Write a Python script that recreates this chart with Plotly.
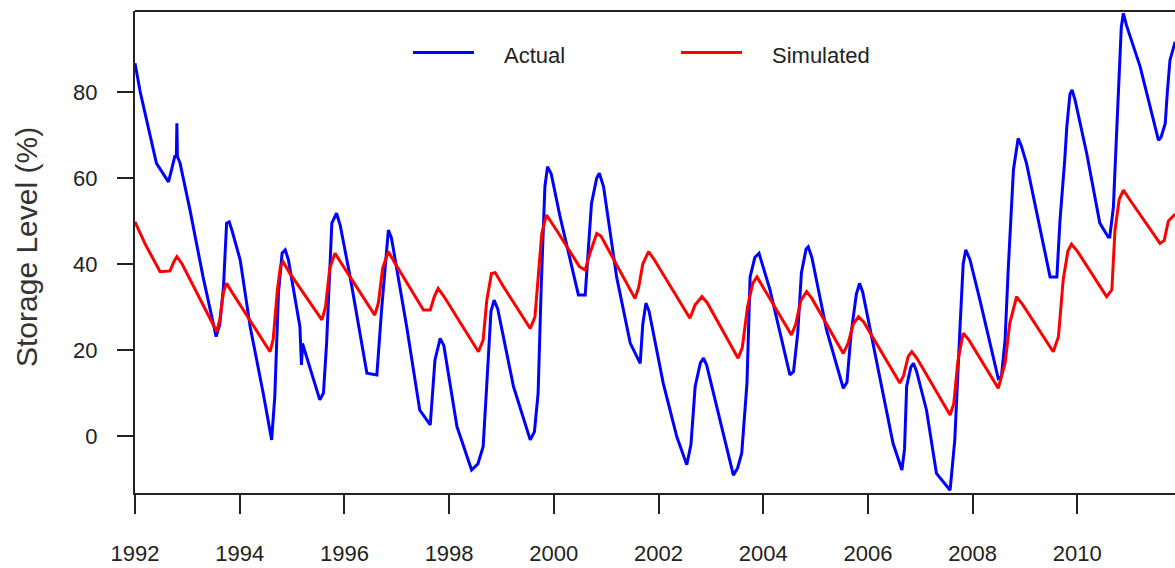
import plotly.graph_objects as go

# Reservoir storage level (%) – observed record
actual_year = [
    1992.00, 1992.10, 1992.41, 1992.56, 1992.64, 1992.70, 1992.76, 1992.79, 1992.80, 1992.81,
    1992.86, 1993.05, 1993.30, 1993.55, 1993.62, 1993.69, 1993.75, 1993.80, 1993.86, 1994.01,
    1994.20, 1994.45, 1994.61, 1994.67, 1994.74, 1994.81, 1994.87, 1994.93, 1995.15, 1995.18,
    1995.20, 1995.53, 1995.60, 1995.66, 1995.76, 1995.85, 1995.92, 1996.11, 1996.43, 1996.62,
    1996.71, 1996.84, 1996.90, 1997.19, 1997.44, 1997.64, 1997.73, 1997.83, 1997.90, 1998.15,
    1998.43, 1998.55, 1998.65, 1998.72, 1998.80, 1998.86, 1998.93, 1999.23, 1999.55, 1999.63,
    1999.70, 1999.76, 1999.83, 1999.88, 1999.95, 2000.12, 2000.47, 2000.60, 2000.66, 2000.72,
    2000.82, 2000.87, 2000.95, 2001.20, 2001.46, 2001.65, 2001.70, 2001.76, 2001.82, 2002.09,
    2002.35, 2002.54, 2002.62, 2002.70, 2002.80, 2002.86, 2002.92, 2003.17, 2003.43, 2003.51,
    2003.59, 2003.69, 2003.75, 2003.84, 2003.92, 2004.13, 2004.51, 2004.58, 2004.66, 2004.73,
    2004.82, 2004.86, 2004.93, 2005.21, 2005.53, 2005.60, 2005.68, 2005.78, 2005.84, 2005.90,
    2006.23, 2006.48, 2006.65, 2006.70, 2006.74, 2006.82, 2006.87, 2006.93, 2007.12, 2007.31,
    2007.57, 2007.61, 2007.66, 2007.76, 2007.82, 2007.87, 2007.95, 2008.14, 2008.49, 2008.55,
    2008.62, 2008.68, 2008.75, 2008.78, 2008.87, 2008.93, 2009.03, 2009.48, 2009.61, 2009.67,
    2009.76, 2009.80, 2009.86, 2009.90, 2009.96, 2010.18, 2010.43, 2010.59, 2010.62, 2010.69,
    2010.72, 2010.78, 2010.84, 2010.88, 2010.94, 2011.20, 2011.55, 2011.60, 2011.68, 2011.72,
    2011.77, 2011.87,
]
actual_level = [
    86.7, 80.0, 63.4, 60.5, 59.1, 62.0, 65.0, 65.0, 72.7, 65.0,
    63.5, 52.6, 37.0, 23.1, 26.0, 34.7, 49.5, 49.8, 47.5, 40.9,
    25.4, 9.9, -0.9, 9.1, 33.2, 42.5, 43.3, 41.0, 25.4, 16.5,
    21.5, 8.4, 10.0, 21.6, 49.5, 51.8, 49.0, 37.0, 14.6, 14.2,
    29.3, 47.9, 46.0, 25.4, 6.0, 2.6, 17.7, 22.7, 21.0, 2.2,
    -7.9, -6.5, -2.5, 12.0, 29.0, 31.6, 29.5, 11.5, -0.9, 1.0,
    9.9, 35.0, 58.0, 62.6, 61.0, 51.0, 32.8, 32.8, 43.0, 54.1,
    60.0, 61.1, 58.0, 37.0, 21.6, 16.9, 26.0, 30.9, 29.0, 12.3,
    -0.2, -6.7, -2.0, 11.5, 17.0, 18.1, 16.5, 3.7, -9.1, -7.5,
    -4.0, 12.3, 37.0, 41.5, 42.5, 34.0, 14.2, 15.0, 24.0, 38.0,
    43.5, 44.0, 41.5, 24.7, 11.1, 12.5, 24.0, 33.0, 35.5, 33.5,
    13.8, -1.7, -7.9, -3.0, 11.5, 16.0, 16.9, 15.0, 6.0, -8.7,
    -12.6, -8.0, -0.9, 25.4, 40.0, 43.3, 41.0, 31.6, 13.4, 13.8,
    22.3, 38.6, 54.9, 61.9, 69.2, 67.5, 63.4, 37.0, 37.0, 50.2,
    64.2, 72.0, 79.5, 80.5, 78.0, 65.7, 49.5, 46.3, 46.3, 53.3,
    61.9, 80.0, 95.0, 98.3, 95.5, 85.9, 68.8, 69.5, 72.7, 80.0,
    87.4, 91.7,
]

# Model output for the same period
sim_year = [
    1992.00, 1992.20, 1992.48, 1992.67, 1992.74, 1992.80, 1992.90, 1993.56, 1993.62, 1993.69,
    1993.75, 1993.85, 1994.58, 1994.64, 1994.72, 1994.78, 1994.83, 1994.95, 1995.57, 1995.64,
    1995.72, 1995.82, 1995.95, 1996.58, 1996.65, 1996.73, 1996.84, 1996.95, 1997.51, 1997.64,
    1997.72, 1997.79, 1997.90, 1998.56, 1998.65, 1998.72, 1998.81, 1998.88, 1999.04, 1999.55,
    1999.64, 1999.70, 1999.77, 1999.86, 2000.05, 2000.49, 2000.60, 2000.69, 2000.82, 2000.90,
    2001.55, 2001.62, 2001.70, 2001.81, 2001.92, 2002.60, 2002.70, 2002.83, 2002.93, 2003.52,
    2003.60, 2003.70, 2003.80, 2003.88, 2003.98, 2004.54, 2004.62, 2004.72, 2004.83, 2004.93,
    2005.53, 2005.62, 2005.72, 2005.82, 2005.92, 2006.61, 2006.68, 2006.77, 2006.84, 2006.94,
    2007.57, 2007.64, 2007.72, 2007.82, 2007.92, 2008.49, 2008.62, 2008.71, 2008.84, 2008.96,
    2009.54, 2009.64, 2009.73, 2009.82, 2009.89, 2010.00, 2010.56, 2010.66, 2010.72, 2010.80,
    2010.88, 2011.00, 2011.58, 2011.66, 2011.74, 2011.87,
]
sim_level = [
    49.8, 44.5, 38.2, 38.4, 40.5, 41.7, 40.0, 24.3, 27.0, 33.5,
    35.5, 33.5, 19.6, 22.5, 34.0, 39.5, 40.5, 38.0, 27.0, 30.0,
    39.0, 42.5, 40.0, 28.1, 31.0, 39.0, 42.9, 40.5, 29.3, 29.3,
    32.5, 34.3, 32.5, 19.6, 22.3, 31.6, 37.8, 38.0, 34.7, 25.0,
    27.7, 37.0, 47.1, 51.4, 47.9, 39.4, 38.6, 42.5, 47.1, 46.5,
    32.0, 34.5, 40.0, 42.9, 41.0, 27.4, 30.5, 32.4, 31.0, 18.1,
    20.5, 30.0, 35.5, 37.0, 35.0, 23.5, 26.0, 31.5, 33.6, 32.0,
    19.2, 21.5, 26.0, 27.7, 26.5, 12.3, 14.0, 18.5, 19.6, 18.0,
    4.9, 7.5, 17.5, 23.9, 22.5, 11.1, 16.9, 26.2, 32.4, 30.5,
    19.6, 23.1, 36.3, 43.0, 44.6, 43.0, 32.4, 34.0, 47.9, 55.0,
    57.2, 55.0, 44.8, 45.5, 50.0, 51.6,
]

x_ticks = [1992, 1994, 1996, 1998, 2000, 2002, 2004, 2006, 2008, 2010]
y_ticks = [0, 20, 40, 60, 80]

series_names = ["Actual", "Simulated"]
series_colors = ["#0000FF", "#FF0000"]

W, H = 1175, 568
ML, MR, MT, MB = 135, 0, 11, 75
PW, PH = W - ML - MR, H - MT - MB

FONT = "Liberation Sans, Arial, sans-serif"
INK = "#222222"


def px_x(px):
    return (px - ML) / PW


def px_y(py):
    return (H - MB - py) / PH


fig = go.Figure()
fig.add_trace(go.Scatter(x=actual_year, y=actual_level, mode="lines", name=series_names[0],
                         line=dict(color=series_colors[0], width=3), showlegend=False))
fig.add_trace(go.Scatter(x=sim_year, y=sim_level, mode="lines", name=series_names[1],
                         line=dict(color=series_colors[1], width=3), showlegend=False))

# hand-placed key across the top of the panel
key = [(413, 474, 502), (681, 742, 770)]
shapes = []
annotations = []
for (x0, x1, tx), name, col in zip(key, series_names, series_colors):
    shapes.append(dict(type="line", xref="paper", yref="paper",
                       x0=px_x(x0), x1=px_x(x1), y0=px_y(52.5), y1=px_y(52.5),
                       line=dict(color=col, width=3)))
    annotations.append(dict(text=name, xref="paper", yref="paper", x=px_x(tx), y=px_y(55),
                            xanchor="left", yanchor="middle", showarrow=False,
                            font=dict(family=FONT, size=22, color=INK)))

# frame line along the top edge
shapes.append(dict(type="line", xref="paper", yref="paper", x0=0, x1=1, y0=1, y1=1,
                   line=dict(color=INK, width=2)))

annotations.append(dict(text="Storage Level (%)", xref="paper", yref="paper",
                        x=px_x(26), y=px_y(247), textangle=-90, showarrow=False,
                        xanchor="center", yanchor="middle",
                        font=dict(family=FONT, size=30, color="#333333")))

x_lo = 1992.0
x_hi = 1992.0 + PW / 52.35
y_lo = -57 / 4.3
y_hi = 425 / 4.3

fig.update_layout(
    width=W, height=H,
    margin=dict(l=ML, r=MR, t=MT, b=MB, pad=0),
    paper_bgcolor="white", plot_bgcolor="white",
    shapes=shapes, annotations=annotations,
    xaxis=dict(range=[x_lo, x_hi], tickvals=x_ticks, ticktext=[str(v) for v in x_ticks],
               showgrid=False, zeroline=False, showline=True, linecolor=INK, linewidth=2,
               ticks="outside", ticklen=19, tickwidth=2, tickcolor=INK,
               ticklabelstandoff=21,
               tickfont=dict(family=FONT, size=22, color=INK)),
    yaxis=dict(range=[y_lo, y_hi], tickvals=y_ticks, ticktext=[str(v) for v in y_ticks],
               showgrid=False, zeroline=False, showline=True, linecolor=INK, linewidth=2,
               ticks="outside", ticklen=16, tickwidth=2, tickcolor=INK,
               ticklabelstandoff=15,
               tickfont=dict(family=FONT, size=22, color=INK)),
)

fig.write_html("out.html")
